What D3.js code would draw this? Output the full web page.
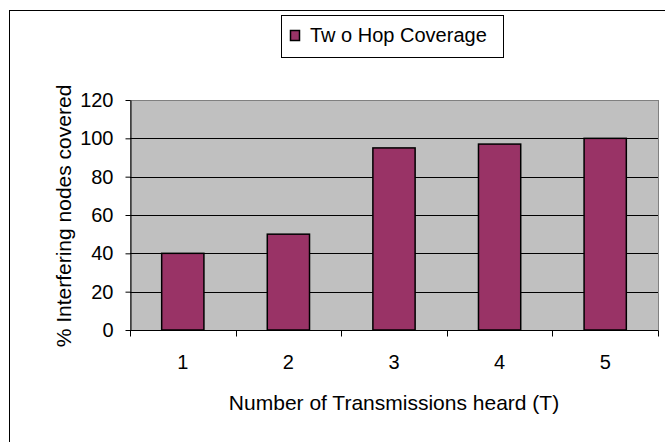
<!DOCTYPE html>
<html>
<head>
<meta charset="utf-8">
<script src="https://cdn.jsdelivr.net/npm/d3@7"></script>
<style>
  body { margin: 0; background: #fff; }
  text { font-family: "Liberation Sans", Arial, sans-serif; fill: #000; }
</style>
</head>
<body>
<script>
// chart data
var categories = ["1", "2", "3", "4", "5"];
var coverage = [40, 50, 95, 97, 100];
var yTicks = [0, 20, 40, 60, 80, 100, 120];
var seriesName = "Tw o Hop Coverage";
var xTitle = "Number of Transmissions heard (T)";
var yTitle = "% Interfering nodes covered";

var w = 665, h = 442;
// plot area edges (names chosen so they don't clash with window.top)
var plotL = 130, plotR = 658, plotT = 100, plotB = 330;

var svg = d3.select("body").append("svg")
    .attr("width", w)
    .attr("height", h);

// outer chart border (runs off the picture on the right and bottom)
svg.append("rect")
    .attr("x", 9.5).attr("y", 10.5)
    .attr("width", 700).attr("height", 500)
    .attr("fill", "#fff")
    .attr("stroke", "#000");

var x = d3.scaleBand()
    .domain(categories)
    .range([plotL, plotR])
    .paddingInner(0.6)
    .paddingOuter(0.3);

// band without padding, used for the tick marks between categories
var xCell = d3.scaleBand().domain(categories).range([plotL, plotR]);

var y = d3.scaleLinear()
    .domain([0, 120])
    .range([plotB, plotT]);

// plot background
svg.append("rect")
    .attr("x", plotL + 0.5).attr("y", plotT + 0.5)
    .attr("width", plotR - plotL).attr("height", plotB - plotT)
    .attr("fill", "#c0c0c0")
    .attr("stroke", "#808080");

// gridlines
svg.append("g")
  .selectAll("line")
  .data(yTicks.filter(function(d) { return d > 0 && d < 120; }))
  .enter().append("line")
    .attr("x1", plotL).attr("x2", plotR)
    .attr("y1", function(d) { return Math.round(y(d)) + 0.5; })
    .attr("y2", function(d) { return Math.round(y(d)) + 0.5; })
    .attr("stroke", "#000");

// bars
svg.append("g")
  .selectAll("rect")
  .data(coverage)
  .enter().append("rect")
    .attr("x", function(d, i) { return x(categories[i]); })
    .attr("y", function(d) { return y(d); })
    .attr("width", x.bandwidth())
    .attr("height", function(d) { return plotB - y(d); })
    .attr("fill", "#993366")
    .attr("stroke", "#000")
    .attr("stroke-width", 1.5);

// y axis
var yAxis = svg.append("g")
    .attr("transform", "translate(" + (plotL + 0.5) + ",0)")
    .call(d3.axisLeft(y).tickValues(yTicks).tickSize(5).tickPadding(12).tickSizeOuter(0));
yAxis.select(".domain").attr("stroke", "#000");
yAxis.selectAll("text").style("font-size", "20px");
yAxis.attr("font-family", null).attr("font-size", null);

// x axis: ticks sit on the category boundaries
var xAxisG = svg.append("g")
    .attr("transform", "translate(0," + (plotB + 0.5) + ")");
xAxisG.append("line")
    .attr("x1", plotL).attr("x2", plotR)
    .attr("stroke", "#000");
xAxisG.selectAll(".tk")
  .data(categories.concat(["end"]))
  .enter().append("line")
    .attr("class", "tk")
    .attr("x1", function(d, i) { return Math.round(plotL + i * xCell.step()) + 0.5; })
    .attr("x2", function(d, i) { return Math.round(plotL + i * xCell.step()) + 0.5; })
    .attr("y1", 0).attr("y2", 6)
    .attr("stroke", "#000");
xAxisG.selectAll(".lb")
  .data(categories)
  .enter().append("text")
    .attr("class", "lb")
    .attr("x", function(d) { return xCell(d) + xCell.bandwidth() / 2; })
    .attr("y", 38)
    .attr("text-anchor", "middle")
    .style("font-size", "20px")
    .text(function(d) { return d; });

// axis titles
svg.append("text")
    .attr("x", (plotL + plotR) / 2)
    .attr("y", 410)
    .attr("text-anchor", "middle")
    .style("font-size", "21px")
    .text(xTitle);

svg.append("text")
    .attr("transform", "translate(71," + ((plotT + plotB) / 2 + 1) + ") rotate(-90)")
    .attr("text-anchor", "middle")
    .style("font-size", "21px")
    .text(yTitle);

// legend
var legend = svg.append("g");
legend.append("rect")
    .attr("x", 281.5).attr("y", 15.5)
    .attr("width", 222).attr("height", 42)
    .attr("fill", "#fff")
    .attr("stroke", "#000");
legend.append("rect")
    .attr("x", 290.5).attr("y", 30.5)
    .attr("width", 9).attr("height", 10)
    .attr("fill", "#993366")
    .attr("stroke", "#000")
    .attr("stroke-width", 1.5);
legend.append("text")
    .attr("x", 310)
    .attr("y", 42)
    .style("font-size", "20px")
    .text(seriesName);
</script>
</body>
</html>
